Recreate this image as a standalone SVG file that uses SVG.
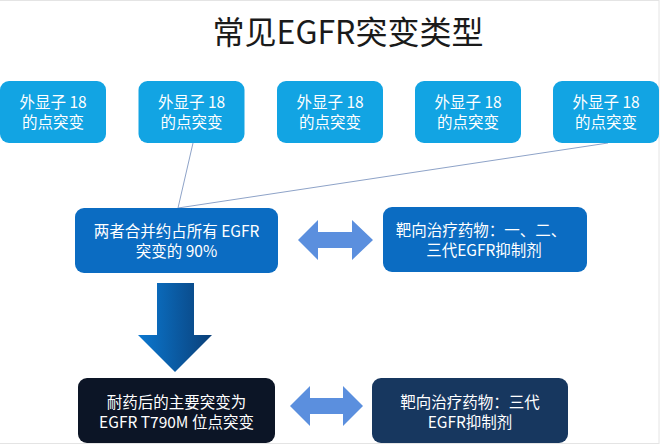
<svg xmlns="http://www.w3.org/2000/svg" width="661" height="445" viewBox="0 0 661 445">
  <style>
    text { font-family: "Noto Sans CJK SC", "Noto Sans", sans-serif; fill: #ffffff; text-anchor: middle; }
    .t { font-size: 15.5px; }
    .top { fill: #12a4e3; }
    .mid { fill: #0b6cc2; }
    .dbl { fill: #5b8fde; }
    .conn { stroke: #8ea3c8; stroke-width: 1; fill: none; }
  </style>
  <defs>
    <linearGradient id="downGrad" x1="0" y1="0" x2="1" y2="0">
      <stop offset="0" stop-color="#0b78d0"/>
      <stop offset="1" stop-color="#0a3f78"/>
    </linearGradient>
  </defs>
  <rect x="0" y="0" width="661" height="445" fill="#ffffff"/>
  <rect x="-1" y="0.5" width="660" height="443" fill="none" stroke="#e4e4e4" stroke-width="1"/>

  <text id="title" x="348" y="44" style="font-size:32px; fill:#1a1a1a;">常见EGFR突变类型</text>

  <g id="connectors">
    <line class="conn" x1="193" y1="143" x2="178" y2="208"/>
    <line class="conn" x1="608" y1="143" x2="178" y2="208"/>
    <path d="M298,240 L318,220 L318,232 L352,232 L352,220 L373,240 L352,260 L352,248 L318,248 L318,260 Z" class="dbl"/>
    <path d="M157,283 L194,283 L194,335 L212,335 L175,372 L138,335 L157,335 Z" fill="url(#downGrad)"/>
    <path d="M290,406 L310,386 L310,398 L343,398 L343,386 L363,406 L343,426 L343,414 L310,414 L310,426 Z" class="dbl"/>
  </g>

  <g id="exon1">
    <rect class="top" x="0" y="81" width="106" height="62" rx="9"/>
    <text class="t" x="53" y="108">外显子 18</text>
    <text class="t" x="53" y="128">的点突变</text>
  </g>
  <g id="exon2">
    <rect class="top" x="138.5" y="81" width="106" height="62" rx="9"/>
    <text class="t" x="191.5" y="108">外显子 18</text>
    <text class="t" x="191.5" y="128">的点突变</text>
  </g>
  <g id="exon3">
    <rect class="top" x="277" y="81" width="106" height="62" rx="9"/>
    <text class="t" x="330" y="108">外显子 18</text>
    <text class="t" x="330" y="128">的点突变</text>
  </g>
  <g id="exon4">
    <rect class="top" x="415" y="81" width="106" height="62" rx="9"/>
    <text class="t" x="468" y="108">外显子 18</text>
    <text class="t" x="468" y="128">的点突变</text>
  </g>
  <g id="exon5">
    <rect class="top" x="553" y="81" width="106" height="62" rx="9"/>
    <text class="t" x="606" y="108">外显子 18</text>
    <text class="t" x="606" y="128">的点突变</text>
  </g>

  <g id="combined">
    <rect class="mid" x="75" y="208" width="203" height="65" rx="9"/>
    <text class="t" x="176.5" y="237">两者合并约占所有 EGFR</text>
    <text class="t" x="176.5" y="257">突变的 90%</text>
  </g>
  <g id="drugs123">
    <rect class="mid" x="383" y="207" width="204" height="65" rx="9"/>
    <text class="t" x="481" y="236">靶向治疗药物：一、二、</text>
    <text class="t" x="484" y="256">三代EGFR抑制剂</text>
  </g>
  <g id="resistance">
    <rect x="78" y="378" width="197" height="65" rx="9" fill="#0c1526"/>
    <text class="t" x="176.5" y="408">耐药后的主要突变为</text>
    <text class="t" x="176.5" y="428">EGFR T790M 位点突变</text>
  </g>
  <g id="drugs3">
    <rect x="372" y="378" width="196" height="65" rx="9" fill="#17375f"/>
    <text class="t" x="470" y="408">靶向治疗药物：三代</text>
    <text class="t" x="470" y="428">EGFR抑制剂</text>
  </g>
</svg>
